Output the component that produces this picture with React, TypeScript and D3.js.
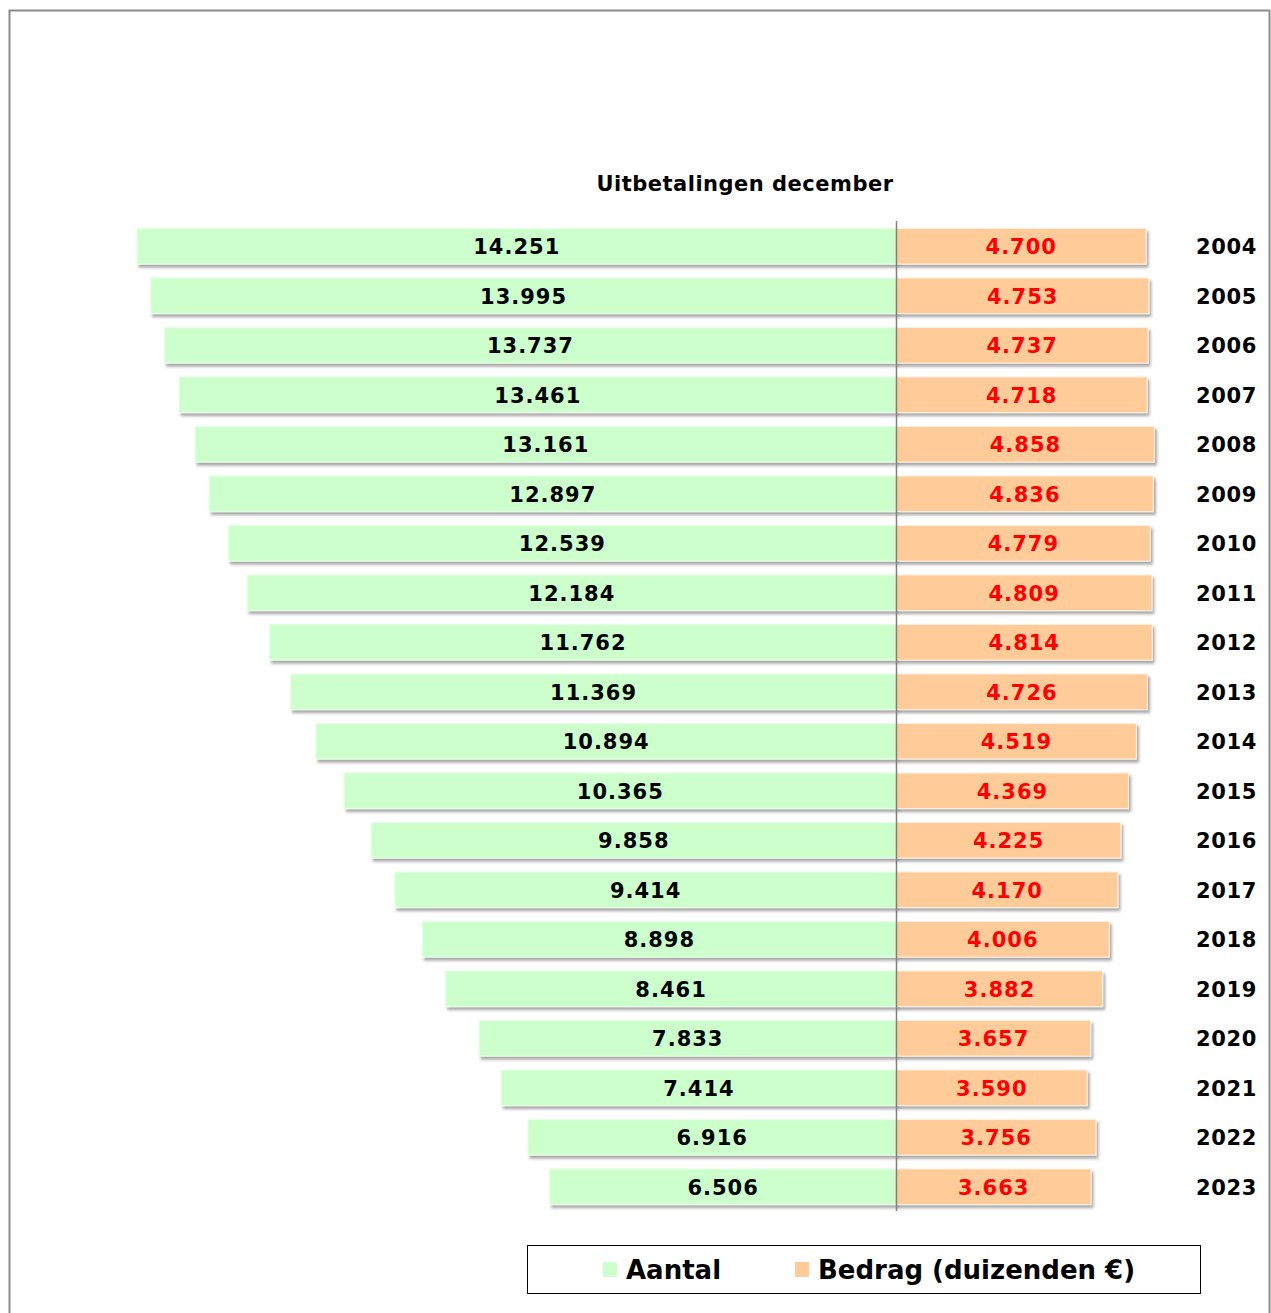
import React from "react";
import * as d3 from "d3";

const years = ["2004","2005","2006","2007","2008","2009","2010","2011","2012","2013","2014","2015","2016","2017","2018","2019","2020","2021","2022","2023"];
const aantal = [14251,13995,13737,13461,13161,12897,12539,12184,11762,11369,10894,10365,9858,9414,8898,8461,7833,7414,6916,6506];
const bedrag = [4700,4753,4737,4718,4858,4836,4779,4809,4814,4726,4519,4369,4225,4170,4006,3882,3657,3590,3756,3663];
const title = "Uitbetalingen december";
const seriesNames = ["Aantal", "Bedrag (duizenden €)"];

const W = 1271, H = 1313;
const AXIS_X = 896.5;
const FONT = "'DejaVu Sans', Verdana, sans-serif";
const GREEN = "#CCFFCC";
const ORANGE = "#FFCC99";

const fmt = (v: number) => d3.format(",")(v).replace(/,/g, ".");

export default function App() {
  const len = d3.scaleLinear().domain([0, 14251]).range([0, 759.5]);
  const lenB = d3.scaleLinear().domain([0, 4700]).range([0, 249.5]);
  const y = d3.scaleBand<string>().domain(years).range([221.5, 1211.5]).paddingInner(0.28).paddingOuter(0.14);
  const bh = y.bandwidth();

  return (
    <svg width={W} height={H} style={{ position: "absolute", left: 0, top: 0, background: "#fff" }}>
      <defs>
        <filter id="sh" x="-5%" y="-30%" width="110%" height="170%">
          <feDropShadow dx="2" dy="3" stdDeviation="1.8" floodColor="#000" floodOpacity="0.35" />
        </filter>
      </defs>
      <rect x={9.5} y={10.5} width={1260} height={1320} fill="#fff" stroke="#8c8c8c" strokeWidth={2} />
      <text x={745} y={184} textAnchor="middle" dominantBaseline="central" fontFamily={FONT} fontWeight="bold" fontSize={21} letterSpacing={0.5} fill="#000">{title}</text>
      {years.map((yr, i) => {
        const y0 = y(yr)!;
        const gw = len(aantal[i]);
        const ow = lenB(bedrag[i]);
        const cy = y0 + bh / 2 + 1;
        return (
          <g key={yr}>
            <rect x={AXIS_X - gw} y={y0} width={gw} height={bh} fill={GREEN} stroke="#e8ffe8" strokeWidth={1} filter="url(#sh)" />
            <rect x={AXIS_X} y={y0} width={ow} height={bh} fill={ORANGE} stroke="#fff0e0" strokeWidth={1} filter="url(#sh)" />
            <text x={AXIS_X - gw / 2} y={cy} textAnchor="middle" dominantBaseline="central" fontFamily={FONT} fontWeight="bold" fontSize={21} letterSpacing={1} fill="#000">{fmt(aantal[i])}</text>
            <text x={AXIS_X + ow / 2} y={cy} textAnchor="middle" dominantBaseline="central" fontFamily={FONT} fontWeight="bold" fontSize={21} letterSpacing={1} fill="#FF0000">{fmt(bedrag[i])}</text>
            <text x={1196} y={cy} textAnchor="start" dominantBaseline="central" fontFamily={FONT} fontWeight="bold" fontSize={21} letterSpacing={0.6} fill="#000">{yr}</text>
          </g>
        );
      })}
      <line x1={AXIS_X} x2={AXIS_X} y1={221} y2={1211} stroke="#808080" strokeWidth={1.5} />
      <g>
        <rect x={527.5} y={1245.5} width={673} height={48} fill="#fff" stroke="#000" strokeWidth={1} />
        <rect x={603} y={1262} width={14} height={15} fill={GREEN} />
        <text x={626} y={1270} dominantBaseline="central" fontFamily={FONT} fontWeight="bold" fontSize={26} fill="#000">{seriesNames[0]}</text>
        <rect x={795} y={1262} width={14} height={15} fill={ORANGE} />
        <text x={818} y={1270} dominantBaseline="central" fontFamily={FONT} fontWeight="bold" fontSize={26} fill="#000">{seriesNames[1]}</text>
      </g>
    </svg>
  );
}
